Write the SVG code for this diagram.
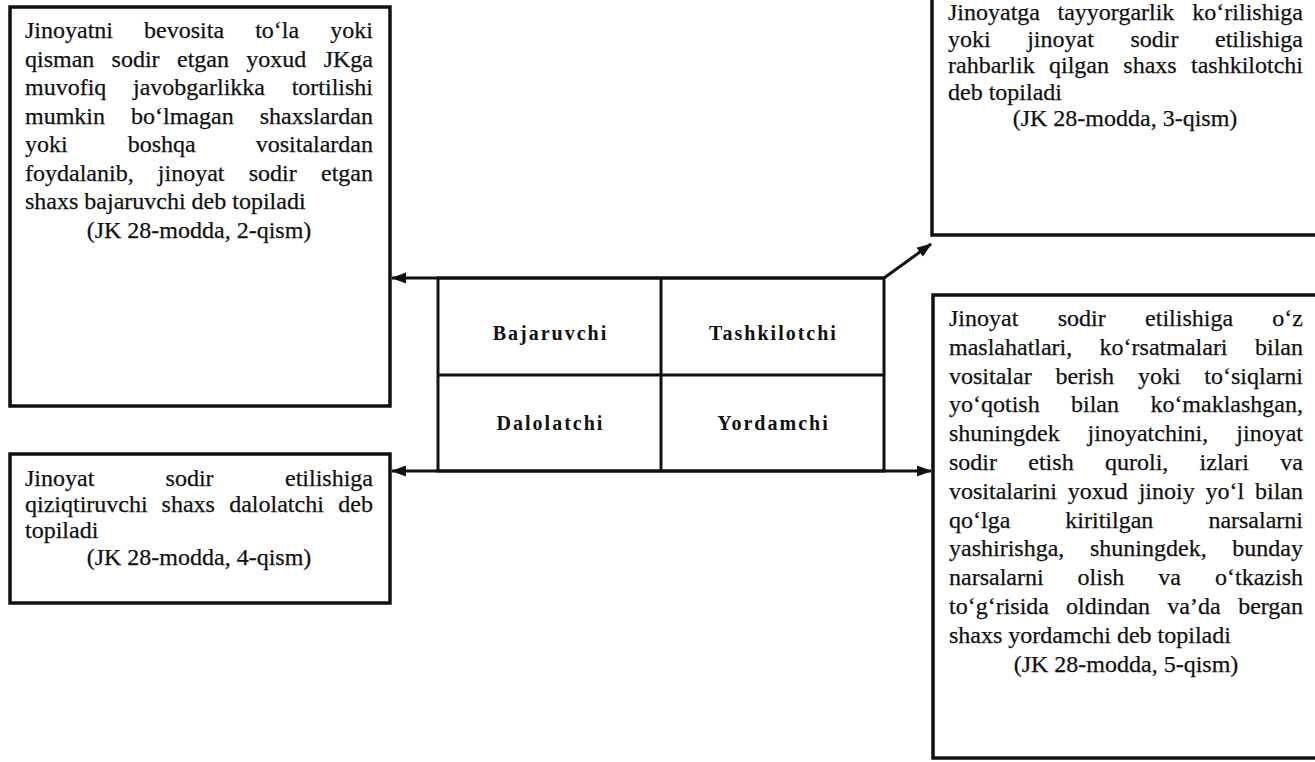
<svg xmlns="http://www.w3.org/2000/svg" width="1315" height="762" viewBox="0 0 1315 762">
<style>
.box{fill:#fff;stroke:#111;stroke-width:3.5}
.t{font-family:"Liberation Serif","Times New Roman",serif;font-size:24px;fill:#111;stroke:#111;stroke-width:0.25}
.c{text-anchor:middle}
.e{text-anchor:end}
.lbl{font-family:"Liberation Serif","Times New Roman",serif;font-size:20px;font-weight:bold;letter-spacing:2px;fill:#111;text-anchor:middle}
.ln{fill:none;stroke:#111;stroke-width:3}
</style>
<defs>
<marker id="ah" markerUnits="userSpaceOnUse" markerWidth="16" markerHeight="12" refX="14" refY="6" orient="auto-start-reverse" viewBox="0 0 16 12">
<path d="M0,0.5 L15,6 L0,11.5 z" fill="#111"/>
</marker>
</defs>
<rect width="1315" height="762" fill="#fff"/>

<g id="bajaruvchi-def">
<rect class="box" x="10" y="7" width="380" height="399"/>
<text class="t" y="38"><tspan x="25">Jinoyatni</tspan> <tspan x="144.1">bevosita</tspan> <tspan x="255.2">to‘la</tspan> <tspan x="373" class="e">yoki</tspan></text>
<text class="t" y="66.5"><tspan x="25">qisman</tspan> <tspan x="111.6">sodir</tspan> <tspan x="177">etgan</tspan> <tspan x="246.3">yoxud</tspan> <tspan x="373" class="e">JKga</tspan></text>
<text class="t" y="95"><tspan x="25">muvofiq</tspan> <tspan x="133">javobgarlikka</tspan> <tspan x="373" class="e">tortilishi</tspan></text>
<text class="t" y="123.5"><tspan x="25">mumkin</tspan> <tspan x="131">bo‘lmagan</tspan> <tspan x="373" class="e">shaxslardan</tspan></text>
<text class="t" y="152"><tspan x="25">yoki</tspan> <tspan x="127.7">boshqa</tspan> <tspan x="373" class="e">vositalardan</tspan></text>
<text class="t" y="180.5"><tspan x="25">foydalanib,</tspan> <tspan x="157.8">jinoyat</tspan> <tspan x="248.7">sodir</tspan> <tspan x="373" class="e">etgan</tspan></text>
<text class="t" x="25" y="209">shaxs bajaruvchi deb topiladi</text>
<text class="t c" x="199" y="237.5">(JK 28-modda, 2-qism)</text>
</g>

<g id="dalolatchi-def">
<rect class="box" x="10" y="454" width="380" height="149"/>
<text class="t" y="486"><tspan x="25">Jinoyat</tspan> <tspan x="165.6">sodir</tspan> <tspan x="373" class="e">etilishiga</tspan></text>
<text class="t" y="512"><tspan x="25">qiziqtiruvchi</tspan> <tspan x="161.6">shaxs</tspan> <tspan x="229.2">dalolatchi</tspan> <tspan x="373" class="e">deb</tspan></text>
<text class="t" x="25" y="538">topiladi</text>
<text class="t c" x="199" y="565">(JK 28-modda, 4-qism)</text>
</g>

<g id="tashkilotchi-def">
<rect class="box" x="932" y="-10" width="400" height="245"/>
<text class="t" y="20"><tspan x="948">Jinoyatga</tspan> <tspan x="1057.5">tayyorgarlik</tspan> <tspan x="1303" class="e">ko‘rilishiga</tspan></text>
<text class="t" y="46.5"><tspan x="948">yoki</tspan> <tspan x="1027.2">jinoyat</tspan> <tspan x="1130.4">sodir</tspan> <tspan x="1303" class="e">etilishiga</tspan></text>
<text class="t" y="73"><tspan x="948">rahbarlik</tspan> <tspan x="1049">qilgan</tspan> <tspan x="1123.3">shaxs</tspan> <tspan x="1303" class="e">tashkilotchi</tspan></text>
<text class="t" x="948" y="99.5">deb topiladi</text>
<text class="t c" x="1125" y="126">(JK 28-modda, 3-qism)</text>
</g>

<g id="yordamchi-def">
<rect class="box" x="933" y="295" width="400" height="463"/>
<text class="t" y="326"><tspan x="949">Jinoyat</tspan> <tspan x="1057.7">sodir</tspan> <tspan x="1145.1">etilishiga</tspan> <tspan x="1303" class="e">o‘z</tspan></text>
<text class="t" y="354.8"><tspan x="949">maslahatlari,</tspan> <tspan x="1099.6">ko‘rsatmalari</tspan> <tspan x="1303" class="e">bilan</tspan></text>
<text class="t" y="383.6"><tspan x="949">vositalar</tspan> <tspan x="1055.4">berish</tspan> <tspan x="1137.9">yoki</tspan> <tspan x="1303" class="e">to‘siqlarni</tspan></text>
<text class="t" y="412.4"><tspan x="949">yo‘qotish</tspan> <tspan x="1071">bilan</tspan> <tspan x="1303" class="e">ko‘maklashgan,</tspan></text>
<text class="t" y="441.2"><tspan x="949">shuningdek</tspan> <tspan x="1087.6">jinoyatchini,</tspan> <tspan x="1303" class="e">jinoyat</tspan></text>
<text class="t" y="470"><tspan x="949">sodir</tspan> <tspan x="1028.3">etish</tspan> <tspan x="1105">quroli,</tspan> <tspan x="1199.6">izlari</tspan> <tspan x="1303" class="e">va</tspan></text>
<text class="t" y="498.8"><tspan x="949">vositalarini</tspan> <tspan x="1067.8">yoxud</tspan> <tspan x="1138.7">jinoiy</tspan> <tspan x="1205.5">yo‘l</tspan> <tspan x="1303" class="e">bilan</tspan></text>
<text class="t" y="527.6"><tspan x="949">qo‘lga</tspan> <tspan x="1065.3">kiritilgan</tspan> <tspan x="1303" class="e">narsalarni</tspan></text>
<text class="t" y="556.4"><tspan x="949">yashirishga,</tspan> <tspan x="1090">shuningdek,</tspan> <tspan x="1303" class="e">bunday</tspan></text>
<text class="t" y="585.2"><tspan x="949">narsalarni</tspan> <tspan x="1077.6">olish</tspan> <tspan x="1158.3">va</tspan> <tspan x="1303" class="e">o‘tkazish</tspan></text>
<text class="t" y="614"><tspan x="949">to‘g‘risida</tspan> <tspan x="1066.1">oldindan</tspan> <tspan x="1167.3">va’da</tspan> <tspan x="1303" class="e">bergan</tspan></text>
<text class="t" x="949" y="642.8">shaxs yordamchi deb topiladi</text>
<text class="t c" x="1126" y="671.6">(JK 28-modda, 5-qism)</text>
</g>

<g id="grid">
<rect x="438" y="278" width="446" height="193" fill="none" stroke="#111" stroke-width="3"/>
<line class="ln" x1="661" y1="278" x2="661" y2="471"/>
<line class="ln" x1="438" y1="375" x2="884" y2="375"/>
</g>
<g id="bajaruvchi"><text class="lbl" x="550.5" y="340">Bajaruvchi</text></g>
<g id="tashkilotchi"><text class="lbl" x="773.5" y="340">Tashkilotchi</text></g>
<g id="dalolatchi"><text class="lbl" x="550.5" y="430">Dalolatchi</text></g>
<g id="yordamchi"><text class="lbl" x="773.5" y="430">Yordamchi</text></g>

<g id="connectors">
<path class="ln" d="M884,278 L392,278" marker-end="url(#ah)"/>
<path class="ln" d="M884,278 L931,244" marker-end="url(#ah)"/>
<path class="ln" d="M392,471 L931,471" marker-start="url(#ah)" marker-end="url(#ah)"/>
</g>
</svg>
